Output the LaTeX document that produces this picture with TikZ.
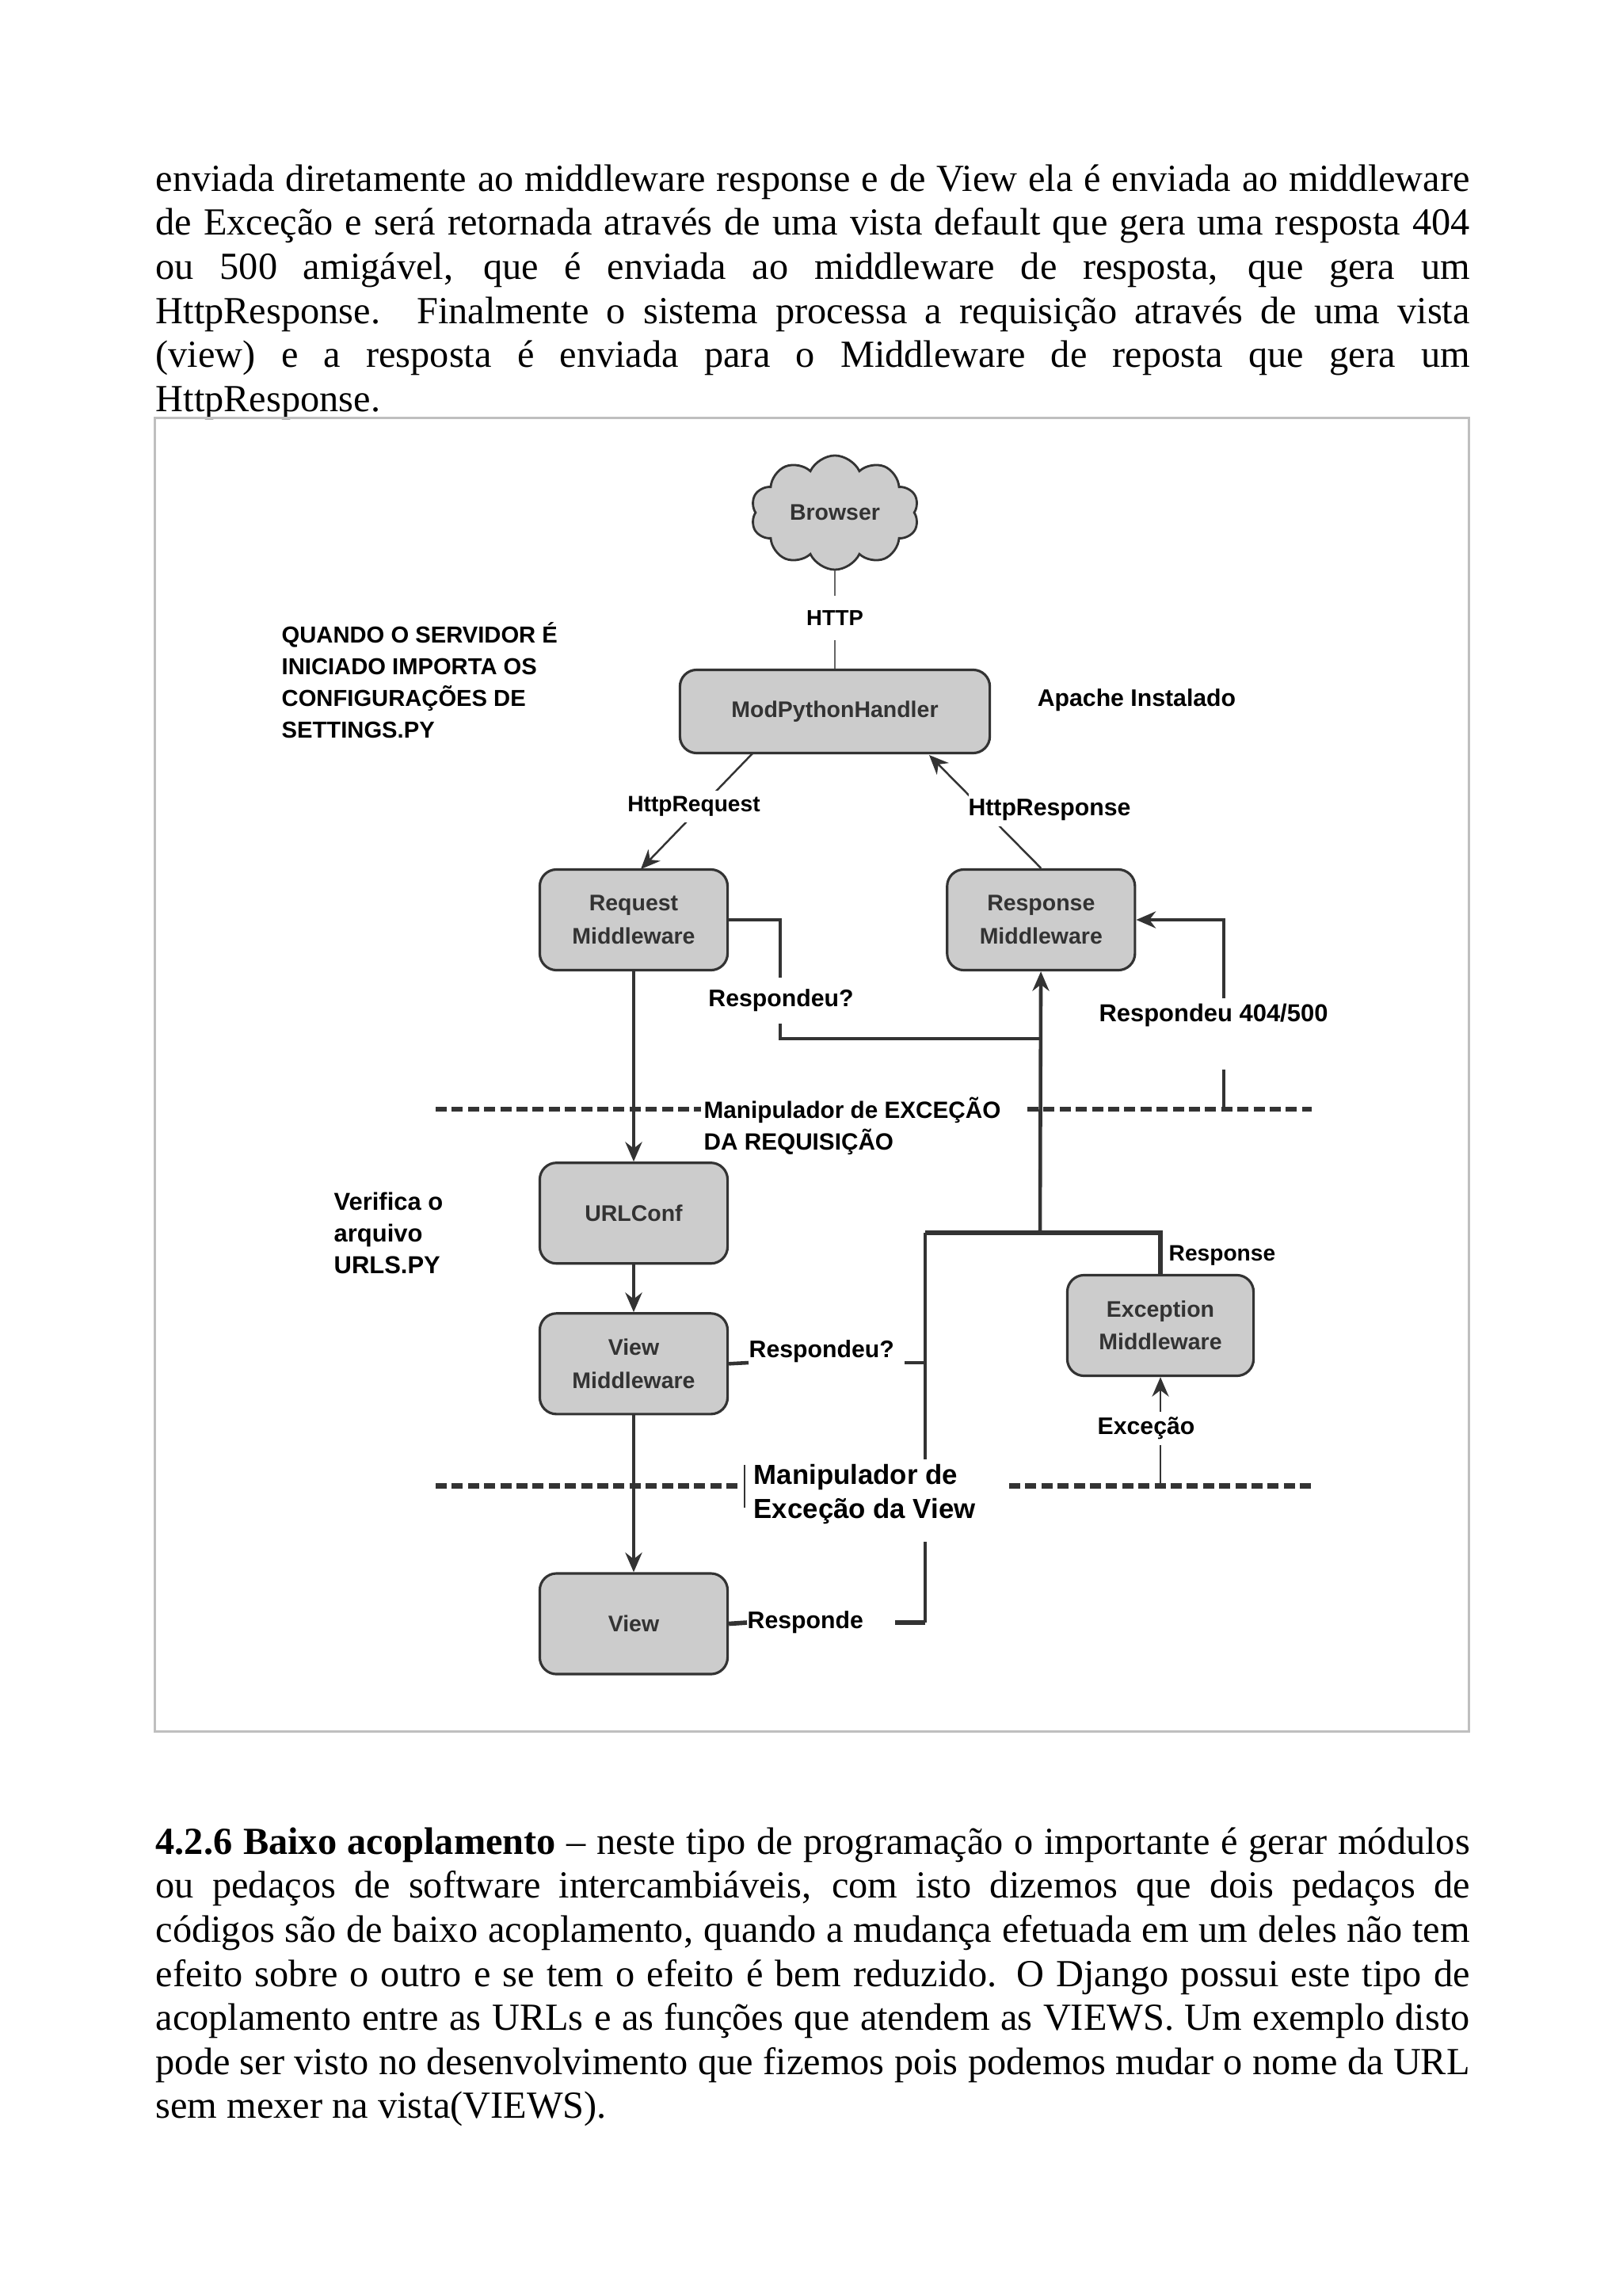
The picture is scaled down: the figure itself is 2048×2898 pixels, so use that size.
\documentclass[tikz,border=0pt]{standalone}
\usepackage{fontspec}
\setmainfont{Liberation Serif}
\newfontfamily\lblfont{Liberation Sans}
\usepackage{xcolor}
\usetikzlibrary{arrows.meta,positioning,calc,shapes.symbols}
\definecolor{boxgray}{HTML}{CCCCCC}
\definecolor{ink}{HTML}{333333}

\begin{document}
\begin{tikzpicture}[>={Stealth[length=7pt,width=6pt]},x=0.01cm,y=-0.01cm,node distance=3.7cm]
\tikzstyle{mid}=[rectangle,rounded corners=6pt,draw=ink,line width=0.9pt,fill=boxgray,minimum width=2.37cm,minimum height=1.27cm,align=center,text=ink,inner sep=0pt,font=\lblfont\bfseries\fontsize{8.1}{11.8}\selectfont]
\tikzstyle{lbl}=[text=black,inner sep=0pt,align=left,font=\lblfont\bfseries\fontsize{8.6}{11.4}\selectfont]
\tikzstyle{cut}=[lbl,fill=white]
\tikzstyle{para}=[anchor=north west,inner sep=0pt,text width=16.58cm,align=justify,font=\fontsize{13.75}{15.8}\selectfont]
\tikzstyle{thin}=[draw=ink,line width=0.7pt]
\tikzstyle{thk}=[draw=ink,line width=1.3pt]
\tikzstyle{sep}=[draw=ink,line width=1.6pt,dash pattern=on 4pt off 1.8pt]
\useasboundingbox (0,0) rectangle (2048,2898);
\node[para] (top) at (196,207) {enviada diretamente ao middleware response e de View ela é enviada ao middleware\linebreak
de Exceção e será retornada através de uma vista default que gera uma resposta 404\linebreak
ou 500 amigável, que é enviada ao middleware de resposta, que gera um\linebreak
HttpResponse. Finalmente o sistema processa a requisição  através de uma vista\linebreak
(view) e a resposta é enviada para o Middleware de reposta que gera um\linebreak
HttpResponse.};
\node[para] (bottom) at (196,2306) {\textbf{4.2.6 Baixo acoplamento} – neste tipo de programação o importante é gerar módulos\linebreak
ou pedaços de software intercambiáveis, com isto dizemos que dois pedaços de\linebreak
códigos são de baixo acoplamento, quando a mudança efetuada em um deles não tem\linebreak
efeito sobre o outro e se tem o efeito é bem reduzido. O Django possui este tipo de\linebreak
acoplamento entre as URLs e as funções  que atendem as VIEWS. Um exemplo disto\linebreak
pode ser visto no desenvolvimento que fizemos pois podemos mudar o nome da URL\linebreak
sem mexer na vista(VIEWS).};
\node[draw=black!25,line width=0.6pt,minimum width=16.58cm,minimum height=16.57cm,inner sep=0pt] (frame) at (1025,1356.5) {};
\node[cloud,cloud puffs=10,cloud puff arc=130,aspect=1.45,draw=ink,line width=0.8pt,fill=boxgray,minimum width=2.12cm,minimum height=1.44cm,inner sep=0pt,text=ink,font=\lblfont\bfseries\fontsize{8.1}{10}\selectfont] (browser) at (1054,647) {Browser};
\node[mid,minimum width=3.91cm,minimum height=1.05cm] (handler) at (1054,898) {ModPythonHandler};
\node[mid] (req) at (800,1161) {Request\\Middleware};
\node[mid,right of=req,node distance=5.14cm] (resp) {Response\\Middleware};
\node[mid,below of=req] (urlconf) {URLConf};
\node[mid,below of=urlconf,node distance=1.9cm] (viewmw) {View\\Middleware};
\node[mid,below of=viewmw,node distance=3.28cm] (view) {View};
\node[mid,minimum width=2.35cm] (excmw) at (1465,1673) {Exception\\Middleware};
% pontos livres das ligacoes
\coordinate (hreq) at (950,951);
\coordinate (treq) at (809,1097);
\coordinate (hresp) at (1173,953);
\coordinate (a) at (985,1161);
\coordinate (b) at (985,1311);
\coordinate (c) at (1313,1311);
\coordinate (d) at (1313,1556);
\coordinate (e) at (1168,1556);
\coordinate (f) at (1465,1556);
\coordinate (g) at (1168,1720);
\coordinate (h) at (945,1720);
\coordinate (i) at (1142,1720);
\coordinate (j) at (1168,2048);
\coordinate (k) at (943,2048);
\coordinate (l) at (1130,2048);
\coordinate (m) at (1545,1161);
\coordinate (n) at (1545,1400);
\coordinate (o) at (1545,1260);
\coordinate (p) at (1545,1350);
\coordinate (q) at (1168,1842);
\coordinate (r) at (1168,1946);
\coordinate (s1a) at (550,1400);
\coordinate (s1b) at (885,1400);
\coordinate (s1c) at (1297,1400);
\coordinate (s1d) at (1656,1400);
\coordinate (s2a) at (550,1875);
\coordinate (s2b) at (931,1875);
\coordinate (s2c) at (1274,1875);
\coordinate (s2d) at (1656,1875);
\coordinate (x) at (1465,1875);
\coordinate (t1) at (940,1849);
\coordinate (t2) at (940,1903);
% separadores
\draw[sep] (s1a) -- (s1b);
\draw[sep] (s1c) -- (s1d);
\draw[sep,line width=2pt] (s2a) -- (s2b);
\draw[sep,line width=2pt] (s2c) -- (s2d);
\draw[thin] (t1) -- (t2);
% ligacoes
\draw[thin,black!60] (browser) -- (handler);
\draw[thin,->] (hreq) -- (treq);
\draw[thin,->] (resp.north) -- (hresp);
\draw[thk,->] (req) -- (urlconf);
\draw[thk,->] (urlconf) -- (viewmw);
\draw[thk,->] (viewmw) -- (view);
\draw[thk] (req.east) -- (a) -- (b) -- (c);
\draw[thk,->] (d) -- (resp);
\draw[thk,line width=1.6pt] (e) -- (f) -- (excmw.north);
\draw[thk] (e) -- (q);
\draw[thk] (r) -- (j);
\draw[thk] (viewmw.east) -- (h);
\draw[thk] (i) -- (g);
\draw[thk,line width=1.6pt] (view.east) -- (k);
\draw[thk,line width=1.6pt] (l) -- (j);
\draw[thk,->] (o) -- (m) -- (resp.east);
\draw[thk] (p) -- (n);
\draw[thin,->] (x) -- (excmw);
% textos
\node[cut,inner xsep=3pt,minimum height=0.55cm,font=\lblfont\bfseries\fontsize{7.8}{11}\selectfont] (http) at (1054,780) {HTTP};
\node[cut,inner ysep=2pt,font=\lblfont\bfseries\fontsize{8}{11}\selectfont] (lreq) at (876,1018) {HttpRequest};
\node[cut,inner ysep=2pt] (lresp) at (1325,1022) {HttpResponse};
\node[cut,minimum height=0.57cm] (r1) at (986,1263) {Respondeu?};
\node[lbl,font=\lblfont\bfseries\fontsize{8.8}{11}\selectfont] (r2) at (1532,1281) {Respondeu 404/500};
\node[lbl,anchor=west] (r3) at (945,1706) {Respondeu?};
\node[lbl,anchor=west] (r4) at (943,2048) {Responde};
\node[lbl,anchor=west,font=\lblfont\bfseries\fontsize{8}{11}\selectfont] (r5) at (1475,1585) {Response};
\node[cut,inner ysep=2pt] (r6) at (1447,1803) {Exceção};
\node[lbl] (apache) at (1435,884) {Apache Instalado};
\node[lbl,anchor=north west,font=\lblfont\bfseries\fontsize{8.3}{11.4}\selectfont] (srv) at (355,785) {QUANDO O SERVIDOR É\\INICIADO IMPORTA OS\\CONFIGURAÇÕES DE\\SETTINGS.PY};
\node[lbl,anchor=north west,font=\lblfont\bfseries\fontsize{8.8}{11.4}\selectfont] (urls) at (421,1504) {Verifica o\\arquivo\\URLS.PY};
\node[lbl,anchor=north west,font=\lblfont\bfseries\fontsize{8.45}{11.4}\selectfont] (man1) at (888,1384) {Manipulador de EXCEÇÃO\\DA REQUISIÇÃO};
\node[lbl,anchor=north west,font=\lblfont\bfseries\fontsize{9.9}{12}\selectfont] (man2) at (951,1848) {Manipulador de\\Exceção da View};
\end{tikzpicture}
\end{document}
